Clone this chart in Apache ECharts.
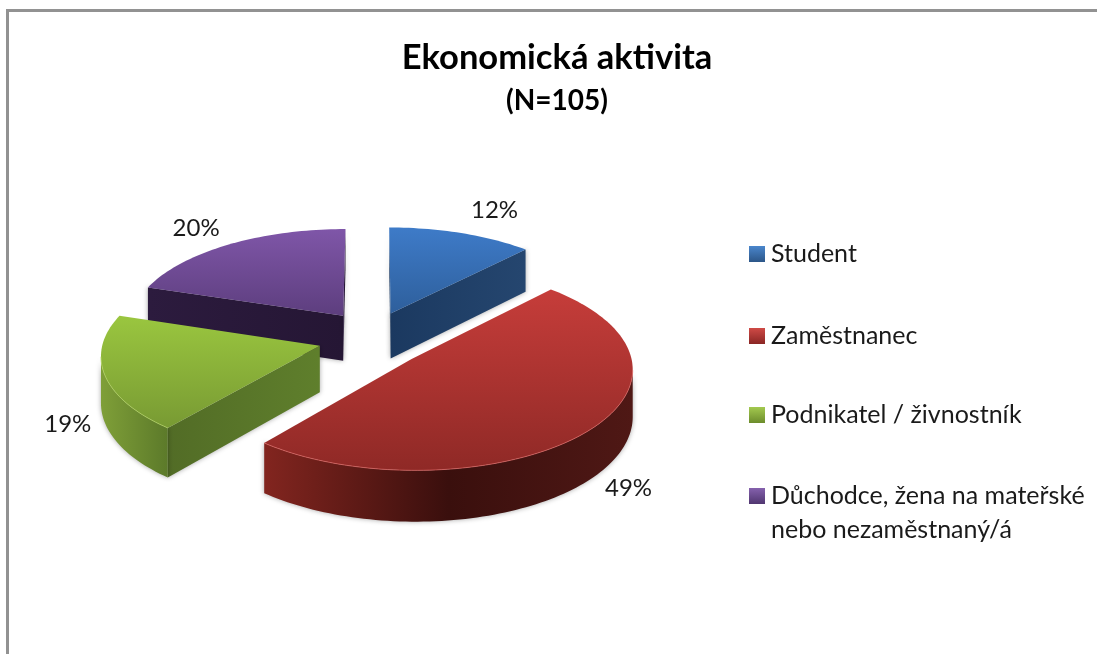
<!DOCTYPE html>
<html><head><meta charset="utf-8">
<style>html,body{margin:0;padding:0;background:#fff}#c{width:1097px;height:654px}</style>
<script src="https://cdn.jsdelivr.net/npm/echarts@6/dist/echarts.min.js"></script>
</head><body><div id="c"></div>
<script>
const categories = ['Student', 'Zaměstnanec', 'Podnikatel / živnostník', 'Důchodce, žena na mateřské\nnebo nezaměstnaný/á'];
const shares = [12, 49, 19, 20];

// Visual style and layout constants (not data)
const FONT = 'Lato, "Open Sans", sans-serif';
const legendColors = [['#4a86cc', '#2c5688'], ['#cf4a46', '#8a2624'], ['#a3c94f', '#6c8c2c'], ['#8561ad', '#503670']];
const topStops = [['#3e7bc8', '#2e5f9c'], ['#c63d3a', '#8f2926'], ['#9ac63f', '#789a33'], ['#7f56a8', '#5d3e7e']];
const rimStops = [['#1e3d66', '#24466f'], ['#82251f', '#3a0f0d', '#4f1815'], ['#7f9f38', '#5c7a2a'], ['#2a1a3c', '#261735']];
const cutStops = [['#1b3960', '#25466f'], ['#5a1a18', '#5a1a18'], ['#526c26', '#5f7f2c'], ['#2c1b3e', '#251634']];
const edgeLight = ['#5a8fd0', '#e06a66', '#b5d565', '#9577bd'];
const zOrder = [3, 5, 4, 2];
const labelNudge = [[14, -1], [-18, 31], [28, 36], [0, 2]];
const sliceNudge = [[0, 0], [0, -4], [-2, -5], [1, -1.5]];
const view = { cx: 372, cy: 342, a: 216, b: 98, k: 0.085, ex: 0.24, ey: 0.32, depth: 46 };

function project(X, Y) {
  const s = 1 / (1 - view.k * Y);
  return [view.cx + view.a * X * s, view.cy + view.b * Y * s, s];
}
function stopsOf(list) {
  return list.map((c, i) => ({ offset: i / (list.length - 1), color: c }));
}
function gradient(list, x0, y0, x1, y1) {
  return { type: 'linear', x: x0, y: y0, x2: x1, y2: y1, global: true, colorStops: stopsOf(list) };
}
function sliceGeometry(i) {
  const total = shares.reduce((p, c) => p + c, 0);
  let before = 0;
  for (let j = 0; j < i; j++) before += shares[j];
  const a0 = before / total * 2 * Math.PI;
  const a1 = (before + shares[i]) / total * 2 * Math.PI;
  const mid = (a0 + a1) / 2;
  const ox = Math.sin(mid) * view.ex, oy = -Math.cos(mid) * view.ey;
  const nudged = (X, Y) => {
    const p = project(X, Y);
    return [p[0] + sliceNudge[i][0], p[1] + sliceNudge[i][1], p[2]];
  };
  const arc = [];
  const steps = Math.max(12, Math.round((a1 - a0) * 40));
  for (let n = 0; n <= steps; n++) {
    const t = a0 + (a1 - a0) * n / steps;
    arc.push(nudged(ox + Math.sin(t), oy - Math.cos(t)));
  }
  return { apex: nudged(ox, oy), arc, mid, ox, oy };
}
function wall(points) {
  const top = points.map(p => [p[0], p[1]]);
  const bottom = points.map(p => [p[0], p[1] + view.depth * p[2]]).reverse();
  return top.concat(bottom);
}
function bounds(pts) {
  const xs = pts.map(p => p[0]), ys = pts.map(p => p[1]);
  return [Math.min(...xs), Math.min(...ys), Math.max(...xs), Math.max(...ys)];
}
function renderSlice(i) {
  return function (params, api) {
    const value = api.value(0);
    const g = sliceGeometry(i);
    const children = [];
    const outline = [g.apex].concat(g.arc);
    const visibleArc = [];
    for (let n = 0; n < g.arc.length; n++) {
      const prevLeft = n > 0 && g.arc[n][0] < g.arc[n - 1][0];
      const nextLeft = n < g.arc.length - 1 && g.arc[n + 1][0] < g.arc[n][0];
      if (prevLeft || nextLeft) visibleArc.push(g.arc[n]);
    }
    const addFace = (pts, stops) => {
      const poly = wall(pts);
      const b = bounds(poly);
      children.push({
        type: 'polygon', shape: { points: poly },
        style: { fill: gradient(stops, b[0], 0, b[2], 0), shadowBlur: 5, shadowColor: 'rgba(0,0,0,0.35)' }
      });
    };
    const first = g.arc[0], last = g.arc[g.arc.length - 1];
    if (first[0] < g.apex[0]) addFace([g.apex, first], cutStops[i]);
    if (g.apex[0] < last[0]) addFace([last, g.apex], cutStops[i]);
    if (visibleArc.length > 1) addFace(visibleArc, rimStops[i]);
    const box = bounds(outline);
    children.push({
      type: 'polygon', shape: { points: outline.map(p => [p[0], p[1]]) },
      style: { fill: gradient(topStops[i], 0, box[1], 0, box[3]) }
    });
    if (visibleArc.length > 1) {
      children.push({
        type: 'polyline', shape: { points: visibleArc.map(p => [p[0], p[1]]) },
        style: { fill: null, stroke: edgeLight[i], lineWidth: 1, opacity: 0.7 }
      });
    }
    const lp = project(g.ox + Math.sin(g.mid) * 1.3, g.oy - Math.cos(g.mid) * 1.3);
    children.push({
      type: 'text',
      style: {
        x: lp[0] + labelNudge[i][0], y: lp[1] + labelNudge[i][1], text: value + '%',
        fill: '#1a1a1a', font: '24px ' + FONT, align: 'center', verticalAlign: 'middle'
      }
    });
    return { type: 'group', children };
  };
}

const legendTops = [237, 319, 398, 445];
const chart = echarts.init(document.getElementById('c'), null, { renderer: 'canvas' });
chart.setOption({
  animation: false,
  backgroundColor: '#ffffff',
  color: legendColors.map(c => c[1]),
  title: {
    text: 'Ekonomická aktivita',
    subtext: '(N=105)',
    left: 552, top: 35, textAlign: 'center', itemGap: 12,
    textStyle: { fontFamily: FONT, fontSize: 34.5, fontWeight: 'bold', color: '#000' },
    subtextStyle: { fontFamily: FONT, fontSize: 28, fontWeight: 'bold', color: '#000' }
  },
  legend: categories.map((name, i) => ({
    data: [{
      name,
      itemStyle: { color: { type: 'linear', x: 0, y: 0, x2: 0, y2: 1, colorStops: stopsOf(legendColors[i]) } }
    }],
    left: 749, top: legendTops[i], orient: 'vertical', selectedMode: false, padding: 0,
    icon: 'rect', itemWidth: 16, itemHeight: 16, itemGap: 0,
    formatter: n => (n.indexOf('\n') >= 0 ? '\n' + n : n),
    textStyle: { fontFamily: FONT, fontSize: 25, color: '#1a1a1a', lineHeight: 34, padding: [0, 0, 0, 1] }
  })),
  graphic: [{
    type: 'polyline', silent: true,
    shape: { points: [[7.5, 654], [7.5, 10.5], [1097, 10.5]] },
    style: { fill: null, stroke: '#929292', lineWidth: 3 }
  }],
  series: categories.map((name, i) => ({
    type: 'custom', name, coordinateSystem: 'none', z: zOrder[i], silent: true,
    itemStyle: { color: legendColors[i][1] },
    renderItem: renderSlice(i),
    data: [shares[i]]
  }))
});
</script></body></html>
